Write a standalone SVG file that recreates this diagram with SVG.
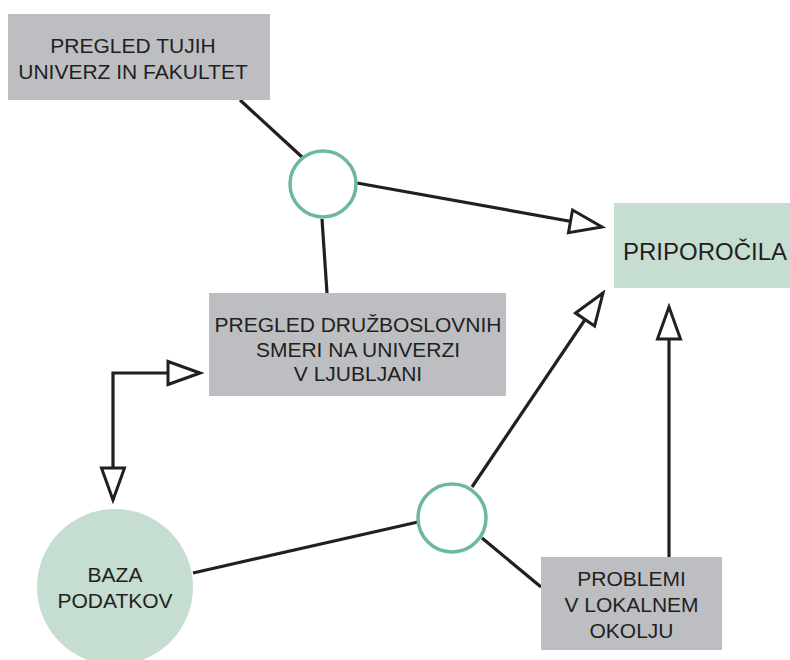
<svg xmlns="http://www.w3.org/2000/svg" width="790" height="660" viewBox="0 0 790 660">
<style>
.box{fill:#bdbec2}
.green{fill:#c6ddd1}
.hub{fill:#fff;stroke:#6db8a0;stroke-width:3.5}
.lbl{font-family:"Liberation Sans",Arial,sans-serif;font-size:21px;fill:#231f20;text-anchor:middle}
.con{fill:none;stroke:#231f20;stroke-width:3.2}
</style>
<defs>
<marker id="arr" markerUnits="userSpaceOnUse" markerWidth="40" markerHeight="30" viewBox="-3 -3 38 30" refX="32" refY="11.5" orient="auto-start-reverse">
<path d="M0,0 L32,11.5 L0,23 Z" fill="#fff" stroke="#231f20" stroke-width="3" stroke-linejoin="miter"/>
</marker>
</defs>
<rect width="790" height="660" fill="#fff"/>
<g id="connectors">
<line class="con" x1="240" y1="100" x2="302" y2="157"/>
<line class="con" x1="322" y1="219" x2="327" y2="293"/>
<line class="con" x1="357" y1="183" x2="602" y2="227" marker-end="url(#arr)"/>
<polyline class="con" points="113,500 113,373 200,373" marker-start="url(#arr)" marker-end="url(#arr)"/>
<line class="con" x1="193" y1="573" x2="418" y2="522"/>
<line class="con" x1="472" y1="487" x2="603" y2="293" marker-end="url(#arr)"/>
<line class="con" x1="482" y1="538" x2="541" y2="587"/>
<line class="con" x1="669" y1="557" x2="669" y2="307" marker-end="url(#arr)"/>
</g>
<g id="node-tujih">
<rect class="box" x="8" y="14" width="262" height="86"/>
<text class="lbl" x="133" y="53">PREGLED TUJIH</text>
<text class="lbl" x="133" y="79">UNIVERZ IN FAKULTET</text>
</g>
<g id="hub-top">
<circle class="hub" cx="323" cy="184" r="33"/>
</g>
<g id="node-priporocila">
<rect class="green" x="614" y="203" width="176" height="85"/>
<text class="lbl" x="623" y="260" style="text-anchor:start;font-size:24px">PRIPOROČILA</text>
</g>
<g id="node-druzboslovne">
<rect class="box" x="209" y="293" width="297" height="103"/>
<text class="lbl" x="358" y="332">PREGLED DRUŽBOSLOVNIH</text>
<text class="lbl" x="358" y="357">SMERI NA UNIVERZI</text>
<text class="lbl" x="358" y="381">V LJUBLJANI</text>
</g>
<g id="node-baza">
<circle class="green" cx="115" cy="587" r="78"/>
<text class="lbl" x="115" y="582">BAZA</text>
<text class="lbl" x="115" y="608">PODATKOV</text>
</g>
<g id="hub-bottom">
<circle class="hub" cx="452" cy="518" r="34"/>
</g>
<g id="node-problemi">
<rect class="box" x="541" y="557" width="181" height="93"/>
<text class="lbl" x="631.5" y="586">PROBLEMI</text>
<text class="lbl" x="631.5" y="612">V LOKALNEM</text>
<text class="lbl" x="631.5" y="638">OKOLJU</text>
</g>
</svg>
